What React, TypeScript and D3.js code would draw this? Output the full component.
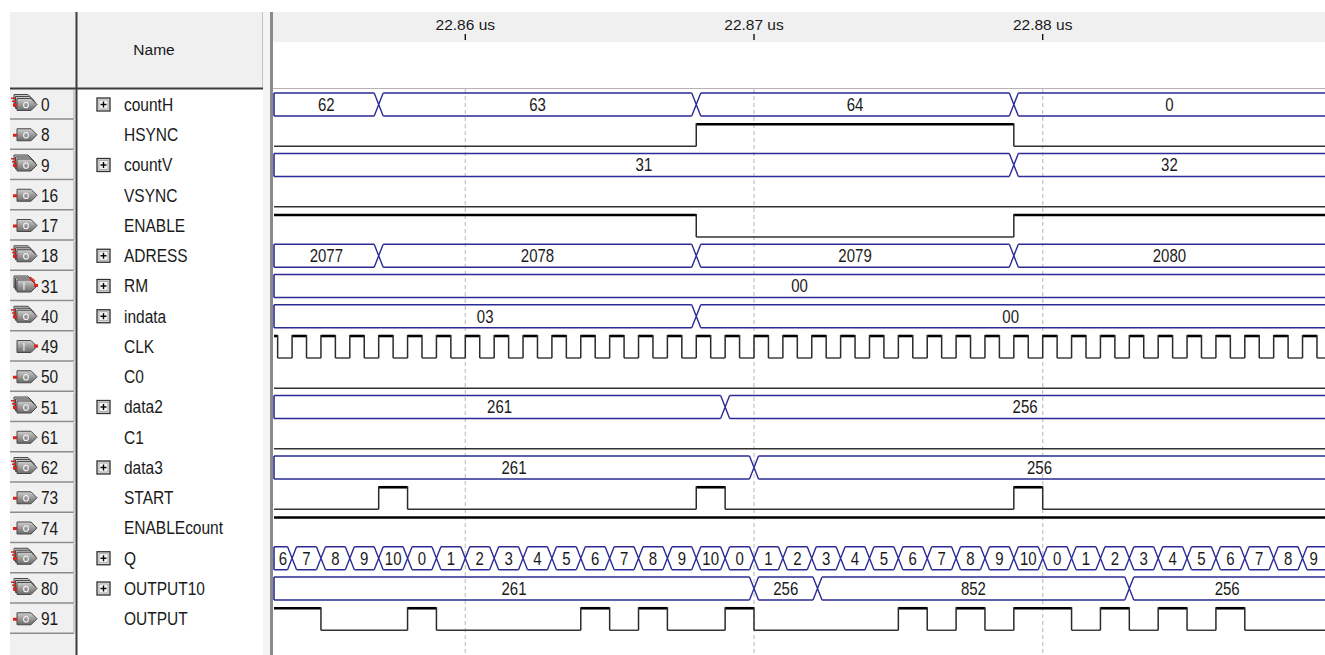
import React from 'react';
import * as d3 from 'd3';

// ruler
const tickTimes = [22860, 22870, 22880];
const tickLabels = ['22.86 us', '22.87 us', '22.88 us'];

// left panel
const pinNumbers = [0, 8, 9, 16, 17, 18, 31, 40, 49, 50, 51, 61, 62, 73, 74, 75, 80, 91];
const signalNames = ['countH', 'HSYNC', 'countV', 'VSYNC', 'ENABLE', 'ADRESS', 'RM', 'indata', 'CLK', 'C0',
  'data2', 'C1', 'data3', 'START', 'ENABLEcount', 'Q', 'OUTPUT10', 'OUTPUT'];
const pinKinds = ['outBus', 'out', 'outBus', 'out', 'out', 'outBus', 'inBus', 'outBus', 'in', 'out',
  'outBus', 'out', 'outBus', 'out', 'out', 'outBus', 'outBus', 'out'];

// bus signals: change times (ns) and values
const countHTimes = [22857, 22868, 22879];
const countHValues = ['62', '63', '64', '0'];
const countVTimes = [22879];
const countVValues = ['31', '32'];
const adressTimes = [22857, 22868, 22879];
const adressValues = ['2077', '2078', '2079', '2080'];
const rmTimes: number[] = [];
const rmValues = ['00'];
const indataTimes = [22868];
const indataValues = ['03', '00'];
const data2Times = [22869];
const data2Values = ['261', '256'];
const data3Times = [22870];
const data3Values = ['261', '256'];
const qTimes = [22854, 22855, 22856, 22857, 22858, 22859, 22860, 22861, 22862, 22863, 22864, 22865,
  22866, 22867, 22868, 22869, 22870, 22871, 22872, 22873, 22874, 22875, 22876, 22877, 22878, 22879,
  22880, 22881, 22882, 22883, 22884, 22885, 22886, 22887, 22888, 22889];
const qValues = ['6', '7', '8', '9', '10', '0', '1', '2', '3', '4', '5', '6', '7', '8', '9', '10', '0',
  '1', '2', '3', '4', '5', '6', '7', '8', '9', '10', '0', '1', '2', '3', '4', '5', '6', '7', '8', '9'];
const output10Times = [22870, 22872.2, 22883];
const output10Values = ['261', '256', '852', '256'];

// single bits: starting level and toggle times (ns)
const hsyncEdges = [22868, 22879];
const enableEdges = [22868, 22879];
const clkEdges = [22853.5, 22854, 22854.5, 22855, 22855.5, 22856, 22856.5, 22857, 22857.5, 22858, 22858.5,
  22859, 22859.5, 22860, 22860.5, 22861, 22861.5, 22862, 22862.5, 22863, 22863.5, 22864, 22864.5, 22865,
  22865.5, 22866, 22866.5, 22867, 22867.5, 22868, 22868.5, 22869, 22869.5, 22870, 22870.5, 22871, 22871.5,
  22872, 22872.5, 22873, 22873.5, 22874, 22874.5, 22875, 22875.5, 22876, 22876.5, 22877, 22877.5, 22878,
  22878.5, 22879, 22879.5, 22880, 22880.5, 22881, 22881.5, 22882, 22882.5, 22883, 22883.5, 22884, 22884.5,
  22885, 22885.5, 22886, 22886.5, 22887, 22887.5, 22888, 22888.5, 22889, 22889.5];
const startEdges = [22857, 22858, 22868, 22869, 22879, 22880];
const outputEdges = [22855, 22858, 22859, 22864, 22865, 22866, 22867, 22869, 22870, 22875, 22876, 22877,
  22878, 22879, 22881, 22882, 22883, 22884, 22885, 22886, 22887];

type Row =
  | { kind: 'bus'; times: number[]; values: string[] }
  | { kind: 'bit'; start: number; edges: number[] };

const rows: Row[] = [
  { kind: 'bus', times: countHTimes, values: countHValues },
  { kind: 'bit', start: 0, edges: hsyncEdges },
  { kind: 'bus', times: countVTimes, values: countVValues },
  { kind: 'bit', start: 0, edges: [] },
  { kind: 'bit', start: 1, edges: enableEdges },
  { kind: 'bus', times: adressTimes, values: adressValues },
  { kind: 'bus', times: rmTimes, values: rmValues },
  { kind: 'bus', times: indataTimes, values: indataValues },
  { kind: 'bit', start: 1, edges: clkEdges },
  { kind: 'bit', start: 0, edges: [] },
  { kind: 'bus', times: data2Times, values: data2Values },
  { kind: 'bit', start: 0, edges: [] },
  { kind: 'bus', times: data3Times, values: data3Values },
  { kind: 'bit', start: 0, edges: startEdges },
  { kind: 'bit', start: 1, edges: [] },
  { kind: 'bus', times: qTimes, values: qValues },
  { kind: 'bus', times: output10Times, values: output10Values },
  { kind: 'bit', start: 1, edges: outputEdges },
];

const W = 1325;
const H = 655;
const WAVE_L = 273;
const WAVE_R = 1325;
const ROW0 = 93;
const ROW_H = 30.25;
const BOX_H = 23;
const D = 4.5;
const BUS = '#2b2b96';
const FONT = '"Liberation Sans", Arial, sans-serif';

const x = d3.scaleLinear().domain([22860, 22880]).range([465.3, 1042.7]);
const tMin = x.invert(WAVE_L + 1);
const tMax = x.invert(WAVE_R + 20);

const rowTop = (i: number) => ROW0 + i * ROW_H;

function BusRow({ r, top }: { r: { times: number[]; values: string[] }; top: number }) {
  const y0 = top;
  const y1 = top + BOX_H;
  const ym = (y0 + y1) / 2;
  const bounds = [tMin, ...r.times, tMax];
  const parts: JSX.Element[] = [];
  r.values.forEach((v, k) => {
    const a = bounds[k];
    const b = bounds[k + 1];
    const xa = k === 0 ? x(a) : x(a) + D;
    const xb = k === r.values.length - 1 ? x(b) : x(b) - D;
    const p = d3.path();
    p.moveTo(xa, y0);
    p.lineTo(xb, y0);
    p.moveTo(xa, y1);
    p.lineTo(xb, y1);
    parts.push(<path key={'s' + k} d={p.toString()} stroke={BUS} strokeWidth={1.4} fill="none" />);
    const visA = Math.max(x(a), WAVE_L + 1);
    const visB = Math.min(x(b), WAVE_R);
    const cx = (visA + visB) / 2;
    parts.push(
      <g key={'l' + k} transform={`translate(${cx},${ym}) scale(1,1.18)`}>
        <text x={0} y={0} dy="0.36em" textAnchor="middle" fontFamily={FONT} fontSize={15} fill="#1a1a1a">{v}</text>
      </g>
    );
  });
  r.times.forEach((t, k) => {
    const xt = x(t);
    const p = d3.path();
    p.moveTo(xt - D, y0);
    p.lineTo(xt + D, y1);
    p.moveTo(xt - D, y1);
    p.lineTo(xt + D, y0);
    parts.push(<path key={'x' + k} d={p.toString()} stroke={BUS} strokeWidth={1.4} fill="none" />);
  });
  parts.push(<line key="left" x1={WAVE_L + 1} x2={WAVE_L + 1} y1={y0} y2={y1} stroke={BUS} strokeWidth={1.6} />);
  return <g>{parts}</g>;
}

function BitRow({ r, top }: { r: { start: number; edges: number[] }; top: number }) {
  const yHi = top + 1;
  const yLo = top + BOX_H;
  const bounds = [tMin, ...r.edges, tMax];
  const parts: JSX.Element[] = [];
  let level = r.start;
  for (let k = 0; k < bounds.length - 1; k++) {
    const y = level ? yHi : yLo;
    parts.push(
      <line key={'h' + k} x1={x(bounds[k])} x2={x(bounds[k + 1])} y1={y} y2={y}
        stroke={level ? '#000' : '#333'} strokeWidth={level ? 2.6 : 1.4} />
    );
    if (k > 0) {
      parts.push(<line key={'v' + k} x1={x(bounds[k])} x2={x(bounds[k])} y1={yHi - 1} y2={yLo}
        stroke="#2a2a2a" strokeWidth={1.5} />);
    }
    level = 1 - level;
  }
  return <g>{parts}</g>;
}

function PinIcon({ kind, cy }: { kind: string; cy: number }) {
  const x0 = 17;
  const body = (dx: number, dy: number, key: string) => (
    <polygon key={key}
      points={`${x0 + dx},${cy - 6 + dy} ${x0 + 14 + dx},${cy - 6 + dy} ${x0 + 20 + dx},${cy + dy} ${x0 + 14 + dx},${cy + 6 + dy} ${x0 + dx},${cy + 6 + dy}`}
      fill="url(#pinGrad)" stroke="#4a4a4a" strokeWidth={1} />
  );
  const isBus = kind.endsWith('Bus');
  const isIn = kind.startsWith('in');
  const els: JSX.Element[] = [];
  if (isBus) {
    els.push(body(-3, -4, 'b2'));
    els.push(body(-1.5, -2, 'b1'));
  }
  els.push(body(0, 0, 'b0'));
  if (isIn) {
    els.push(<text key="t" x={x0 + 7} y={cy + 4} fontFamily={FONT} fontSize={10} textAnchor="middle" fill="#f4f4f4">I</text>);
    els.push(<rect key="r" x={x0 + 17} y={cy - 2} width={4} height={3} fill="#e0201a" />);
    if (isBus) els.push(<path key="r2" d={`M${x0 + 13},${cy - 7} L${x0 + 18},${cy - 3} M${x0 + 13},${cy - 9} L${x0 + 18},${cy - 5}`} stroke="#e0201a" strokeWidth={1.2} />);
  } else {
    els.push(<ellipse key="o" cx={x0 + 9} cy={cy + 0.5} rx={2.4} ry={2.8} fill="none" stroke="#f2f2f2" strokeWidth={1.1} />);
    els.push(<rect key="r" x={x0 - 4} y={cy - 1} width={4} height={3} fill="#e0201a" />);
    if (isBus) {
      els.push(<rect key="r1" x={x0 - 5} y={cy - 4} width={4} height={1.5} fill="#e0201a" />);
      els.push(<rect key="r2" x={x0 - 6} y={cy - 7} width={4} height={1.5} fill="#e0201a" />);
    }
  }
  return <g>{els}</g>;
}

function PlusBox({ cy }: { cy: number }) {
  return (
    <g>
      <rect x={97} y={cy - 6.5} width={13} height={13} fill="#e4e4e4" stroke="#303030" strokeWidth={1.3} />
      <rect x={99} y={cy - 4.5} width={9} height={9} fill="#f4f4f4" stroke="#9a9a9a" strokeWidth={0.8} />
      <line x1={100.5} x2={106.5} y1={cy} y2={cy} stroke="#000" strokeWidth={1.4} />
      <line x1={103.5} x2={103.5} y1={cy - 3} y2={cy + 3} stroke="#000" strokeWidth={1.4} />
    </g>
  );
}

export default function App() {
  return (
    <svg width={W} height={H} style={{ position: 'absolute', left: 0, top: 0, background: '#fff' }}>
      <defs>
        <linearGradient id="pinGrad" x1="0" y1="0" x2="0" y2="1">
          <stop offset="0" stopColor="#d0d0d0" />
          <stop offset="0.5" stopColor="#9a9a9a" />
          <stop offset="1" stopColor="#6a6a6a" />
        </linearGradient>
        <clipPath id="waveClip">
          <rect x={WAVE_L} y={88} width={WAVE_R - WAVE_L} height={H - 88} />
        </clipPath>
      </defs>
      <rect x={0} y={0} width={W} height={H} fill="#fff" />

      {/* left panel */}
      <rect x={10} y={12} width={66} height={H - 12} fill="#f0f0f0" />
      <rect x={77} y={12} width={186} height={76} fill="#f0f0f0" />
      <line x1={262.5} x2={262.5} y1={12} y2={88} stroke="#c4c4c4" />
      <text x={154} y={55} textAnchor="middle" fontFamily={FONT} fontSize={15.5} fill="#1a1a1a">Name</text>
      {pinNumbers.map((n, i) => {
        const top = rowTop(i);
        const cy = top + 11.5;
        return (
          <g key={'pin' + i}>
            <rect x={10} y={top - 3} width={64} height={29} fill="#f0f0f0" />
            <line x1={10} x2={74} y1={top + 26} y2={top + 26} stroke="#8c8c8c" strokeWidth={1.5} />
            <line x1={74} x2={74} y1={top - 3} y2={top + 26} stroke="#a8a8a8" strokeWidth={1} />
            <PinIcon kind={pinKinds[i]} cy={cy} />
            <g transform={`translate(41,${cy}) scale(1,1.18)`}>
              <text x={0} y={0} dy="0.36em" fontFamily={FONT} fontSize={15.5} fill="#1a1a1a">{n}</text>
            </g>
            {rows[i].kind === 'bus' && <PlusBox cy={cy} />}
            <g transform={`translate(124,${cy}) scale(1,1.14)`}>
              <text x={0} y={0} dy="0.36em" fontFamily={FONT} fontSize={15.5} fill="#1a1a1a">{signalNames[i]}</text>
            </g>
          </g>
        );
      })}
      <line x1={76.5} x2={76.5} y1={12} y2={H} stroke="#3c3c3c" strokeWidth={2} />
      <line x1={10} x2={263} y1={88.5} y2={88.5} stroke="#3c3c3c" strokeWidth={2} />

      {/* splitter */}
      <rect x={263} y={12} width={7} height={H - 12} fill="#f4f4f4" />
      <line x1={271.5} x2={271.5} y1={12} y2={H} stroke="#8a8a8a" strokeWidth={3} />

      {/* ruler */}
      <rect x={WAVE_L} y={12} width={WAVE_R - WAVE_L} height={30} fill="#f0f0f0" />
      <line x1={WAVE_L} x2={WAVE_R} y1={88.5} y2={88.5} stroke="#b4b4b4" strokeWidth={1} />
      {tickTimes.map((t, i) => (
        <g key={'tick' + i}>
          <line x1={x(t)} x2={x(t)} y1={34} y2={40} stroke="#000" strokeWidth={1.3} />
          <text x={x(t)} y={30} textAnchor="middle" fontFamily={FONT} fontSize={15.5} fill="#1a1a1a">{tickLabels[i]}</text>
          <line x1={x(t)} x2={x(t)} y1={89} y2={H} stroke="#c2c2c2" strokeWidth={1.2} strokeDasharray="4,3" />
        </g>
      ))}

      {/* waveforms */}
      <g clipPath="url(#waveClip)">
        {rows.map((r, i) =>
          r.kind === 'bus'
            ? <BusRow key={'w' + i} r={r} top={rowTop(i)} />
            : <BitRow key={'w' + i} r={r} top={rowTop(i)} />
        )}
      </g>
    </svg>
  );
}
